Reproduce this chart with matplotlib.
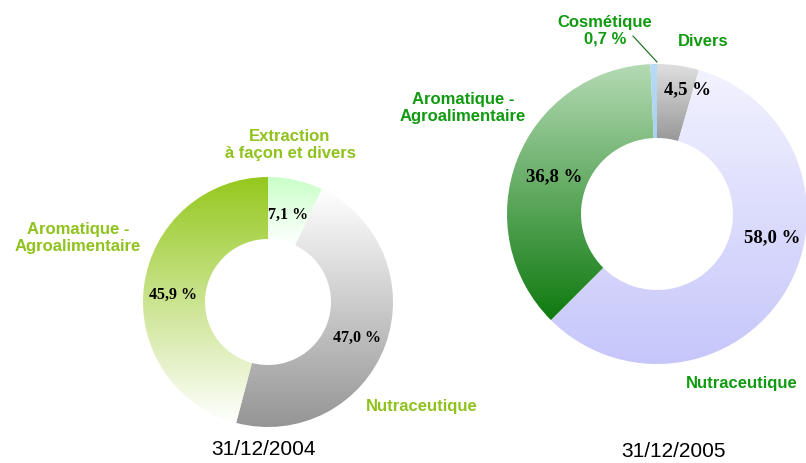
import numpy as np
import matplotlib
matplotlib.use("Agg")
import matplotlib.pyplot as plt
from matplotlib.colors import LinearSegmentedColormap

W, H = 806, 464

# 31/12/2004 (clockwise from 12 o'clock)
labels_2004 = ["Extraction\nà façon et divers", "Nutraceutique", "Aromatique -\nAgroalimentaire"]
values_2004 = [7.1, 47.0, 45.9]
pct_2004 = ["7,1 %", "47,0 %", "45,9 %"]
grad_2004 = [("#c8ffc8", "#ffffff"), ("#ffffff", "#959595"), ("#95c81e", "#ffffff")]

# 31/12/2005 (clockwise from 12 o'clock)
labels_2005 = ["Divers", "Nutraceutique", "Aromatique -\nAgroalimentaire", "Cosmétique"]
values_2005 = [4.5, 58.0, 36.8, 0.7]
pct_2005 = ["4,5 %", "58,0 %", "36,8 %", "0,7 %"]
grad_2005 = [("#e0e0e0", "#989898"), ("#f2f2ff", "#c6c6fb"),
             ("#b4dab4", "#0f7a0f"), ("#b8dcf8", "#a8d0f0")]

LEFT_GREEN = "#8fc21c"
RIGHT_GREEN = "#109a10"


def py(y):
    # pixel row -> data y
    return H - y


def gradient_donut(ax, values, center, radius, inner, grads):
    wedges, _ = ax.pie(values, startangle=90, counterclock=False, center=center,
                       radius=radius, frame=True,
                       wedgeprops=dict(width=radius - inner, linewidth=0))
    for w, (top, bot) in zip(wedges, grads):
        ext = w.get_path().get_extents()
        cmap = LinearSegmentedColormap.from_list("g", [bot, top])
        grad = np.linspace(1, 0, 256).reshape(-1, 1)
        im = ax.imshow(grad, cmap=cmap, vmin=0, vmax=1, aspect="auto",
                       extent=(ext.x0, ext.x1, ext.y0, ext.y1), origin="upper",
                       interpolation="bilinear", zorder=2)
        im.set_clip_path(w)
        w.set_facecolor("none")
    return wedges


fig = plt.figure(figsize=(W / 100, H / 100), dpi=100)
ax = fig.add_axes([0, 0, 1, 1])

gradient_donut(ax, values_2004, (268, py(303)), 125, 63, grad_2004)
gradient_donut(ax, values_2005, (657, py(215)), 150, 76, grad_2005)

ax.set_xlim(0, W)
ax.set_ylim(0, H)
ax.set_aspect("auto")
ax.axis("off")

sans = "Liberation Sans"
serif = "Liberation Serif"
cat = dict(family=sans, fontweight="bold", fontsize=12, ha="center", va="center",
           linespacing=1.15)
num = dict(family=serif, fontweight="bold", ha="center", va="center", color="black")

# left chart labels
ax.text(290, py(145), labels_2004[0], color=LEFT_GREEN, **cat)
ax.text(422, py(407), labels_2004[1], color=LEFT_GREEN, **cat)
ax.text(78, py(238), labels_2004[2], color=LEFT_GREEN, **cat)
ax.text(288, py(215), pct_2004[0], fontsize=11.5, **num)
ax.text(357, py(338), pct_2004[1], fontsize=11.5, **num)
ax.text(173, py(295), pct_2004[2], fontsize=11.5, **num)
ax.text(263, py(450), "31/12/2004", family=sans, fontsize=15, ha="center", va="center")

# right chart labels
ax.text(703, py(42), labels_2005[0], color=RIGHT_GREEN, **cat)
ax.text(742, py(384), labels_2005[1], color=RIGHT_GREEN, **cat)
ax.text(463, py(108), labels_2005[2], color=RIGHT_GREEN, **cat)
ax.text(605, py(31), labels_2005[3] + "\n" + pct_2005[3], color=RIGHT_GREEN, **cat)
ax.plot([633, 657], [py(37), py(63)], color="#106a10", lw=0.8, zorder=3)
ax.text(688, py(90), pct_2005[0], fontsize=13.5, **num)
ax.text(772, py(238), pct_2005[1], fontsize=13.5, **num)
ax.text(554, py(177), pct_2005[2], fontsize=13.5, **num)
ax.text(673, py(452), "31/12/2005", family=sans, fontsize=15, ha="center", va="center")

fig.savefig("out.png", dpi=100)
